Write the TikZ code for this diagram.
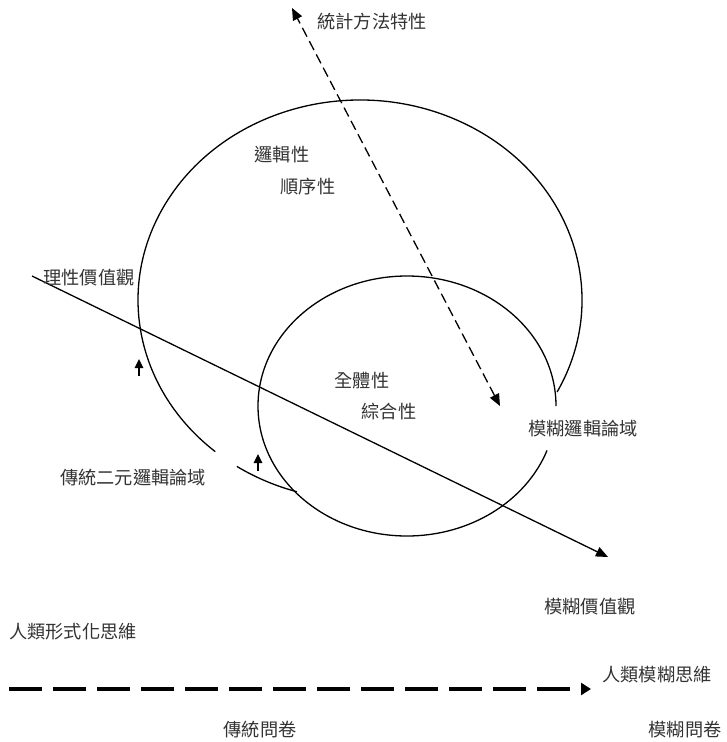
\documentclass[tikz,border=0pt]{standalone}
\usepackage{fontspec}
\newfontfamily\cjk{Noto Sans CJK TC}
\usetikzlibrary{arrows.meta}
\begin{document}
\begin{tikzpicture}[x=1pt,y=-1pt,
  lbl/.style={font=\cjk\fontsize{18.2}{21}\selectfont, text=black!80, inner sep=0pt},
  curve/.style={line width=1.3pt},
  tri/.tip={Triangle[length=12pt,width=10pt]},
  smallup/.style={line width=1.4pt,-{Triangle[length=9pt,width=8.5pt]}}]
\useasboundingbox (0,0) rectangle (727,742);
% big open ellipse
\draw[curve] (360,300) ++(27.4:222 and 200) arc[start angle=27.4, end angle=-229.3, x radius=222, y radius=200];
\draw[curve] (360,300) ++(123.7:222 and 200) arc[start angle=123.7, end angle=106.5, x radius=222, y radius=200];
% small open ellipse
\draw[curve] (407,406) ++(0:149 and 130) arc[start angle=0, end angle=-340, x radius=149, y radius=130];
% dashed double arrow
\coordinate (sTop) at (292,8);
\coordinate (sBot) at (500,406);
\draw[line width=1.3pt, dash pattern=on 10pt off 5pt, tri-tri] (sBot) -- (sTop);
% solid arrow
\coordinate (rStart) at (32,276);
\coordinate (rEnd) at (608,557);
\draw[line width=1.3pt, -tri] (rStart) -- (rEnd);
% small up arrows
\coordinate (u1a) at (139,376);
\coordinate (u1b) at (139,359);
\draw[smallup] (u1a) -- (u1b);
\coordinate (u2a) at (258,471);
\coordinate (u2b) at (258,454);
\draw[smallup] (u2a) -- (u2b);
% bottom thick dashed arrow
\coordinate (hL) at (9,689);
\coordinate (hR) at (591,689);
\draw[line width=4.5pt, dash pattern=on 33pt off 11pt, -{Triangle[length=10pt,width=12pt]}] (hL) -- (hR);
% labels
\node[lbl] (t1) at (372,22) {統計方法特性};
\node[lbl] (t2) at (282,155) {邏輯性};
\node[lbl] (t3) at (308,187) {順序性};
\node[lbl] (t4) at (89,278) {理性價值觀};
\node[lbl] (t5) at (362,381) {全體性};
\node[lbl] (t6) at (389,412) {綜合性};
\node[lbl] (t7) at (583,429) {模糊邏輯論域};
\node[lbl] (t8) at (133,478) {傳統二元邏輯論域};
\node[lbl] (t9) at (590,607) {模糊價值觀};
\node[lbl] (t10) at (73,632) {人類形式化思維};
\node[lbl] (t11) at (657,675) {人類模糊思維};
\node[lbl] (t12) at (260,730) {傳統問卷};
\node[lbl] (t13) at (685,730) {模糊問卷};
\end{tikzpicture}
\end{document}
